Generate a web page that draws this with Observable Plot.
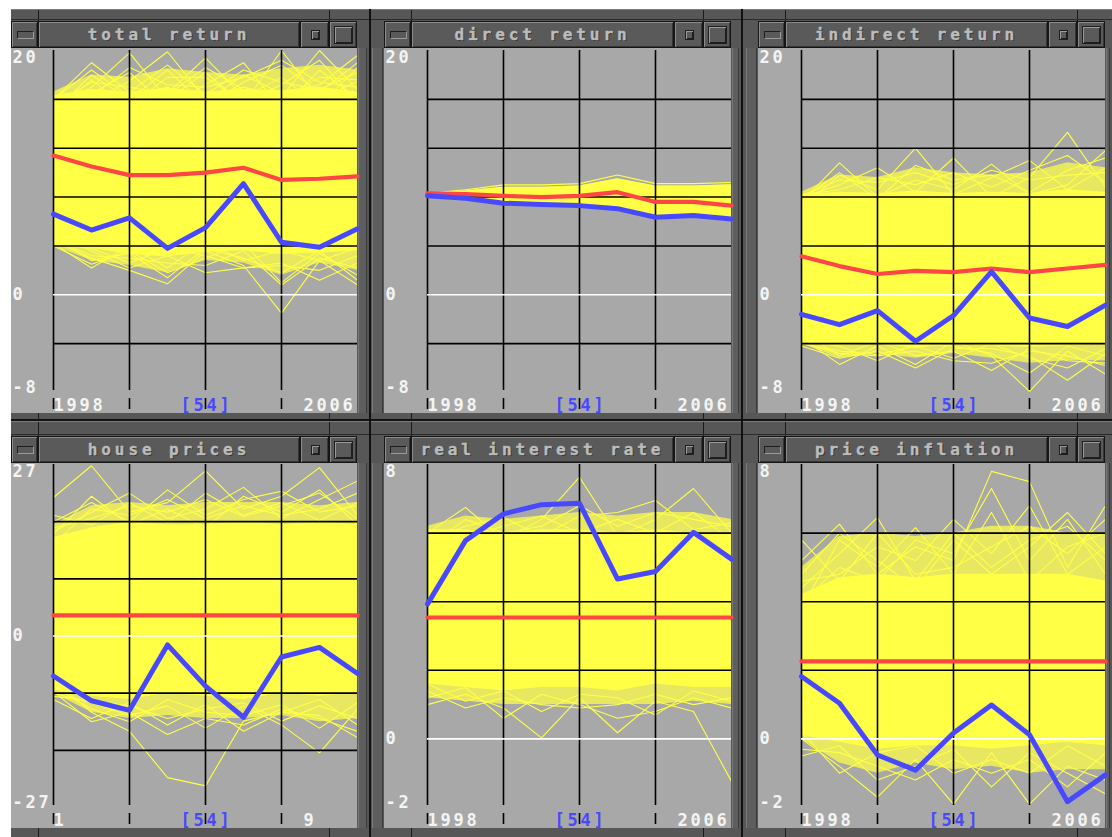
<!DOCTYPE html>
<html><head><meta charset="utf-8">
<script src="https://cdn.jsdelivr.net/npm/d3@7"></script>
<script src="https://cdn.jsdelivr.net/npm/@observablehq/plot@0.6"></script>
<style>
html,body{margin:0;padding:0;background:#fff;}
body{width:1112px;height:837px;overflow:hidden;position:relative;}
.abs{position:absolute;box-sizing:border-box;}
.bg{background:#111;}
.frame{background:#575757;}
.tbox{background:#5a5a5a;border:1px solid #151515;box-shadow:inset 1px 1px 0 #8c8c8c, inset -1px -1px 0 #363636;}
.ttl{color:#bcbcbc;font-family:"DejaVu Sans Mono",monospace;font-weight:bold;font-size:16px;letter-spacing:3.9px;text-align:center;line-height:25px;text-shadow:1px 1px 0 #333;-webkit-text-stroke:0.4px #bcbcbc;white-space:nowrap;overflow:hidden;}
.ico{background:#5a5a5a;box-shadow:inset 1px 1px 0 #9a9a9a, inset -1px -1px 0 #1e1e1e;border:1px solid #1e1e1e;}
.ico2{background:#5a5a5a;border-top:1px solid #1e1e1e;border-left:1px solid #1e1e1e;border-right:1px solid #9a9a9a;border-bottom:1px solid #9a9a9a;}
.strip{background:#5e5e5e;box-shadow:inset 1px 0 0 #7a7a7a, inset -1px 0 0 #3a3a3a;}
.content svg{display:block;}
</style></head><body>
<script>
// ---------- data ----------
const years = [1998, 1999, 2000, 2001, 2002, 2003, 2004, 2005, 2006];
const panelTitles = ["total return", "direct return", "indirect return", "house prices", "real interest rate", "price inflation"];
const selectedLabel = "[54]";
const yearLabels = ["1998", "2006"];
const indexLabels = ["1", "9"];

const returnYLabels = ["20", "0", "-8"];
const returnDomain = [-8, 20];
const returnGrid = [16, 12, 8, 4, -4];
const houseYLabels = ["27", "0", "-27"];
const houseDomain = [-27, 27];
const houseGrid = [18, 9, -9, -18];
const rateYLabels = ["8", "0", "-2"];
const rateDomain = [-2, 8];
const rateGrid = [6, 4, 2];

const totalBlue = [6.6, 5.3, 6.3, 3.8, 5.5, 9.1, 4.3, 3.9, 5.4];
const totalRed = [11.4, 10.5, 9.8, 9.8, 10.0, 10.4, 9.4, 9.5, 9.7];
const totalCoreHi = [16.3, 16.8, 16.6, 16.9, 16.6, 16.8, 16.7, 17.0, 16.6];
const totalCoreLo = [4.0, 3.8, 3.3, 3.1, 3.5, 3.6, 3.3, 3.4, 3.6];
const totalOuterHi = [16.6, 18.0, 17.8, 18.5, 18.2, 18.0, 18.5, 18.8, 18.4];
const totalOuterLo = [4.0, 2.8, 2.4, 1.8, 2.8, 2.6, 1.6, 2.6, 2.0];
const totalFringe = [
  [16.0, 18.4, 16.2, 17.0, 15.8, 18.0, 16.5, 17.2, 19.6],
  [15.5, 17.0, 19.8, 16.0, 18.2, 15.6, 20.0, 16.0, 17.5],
  [16.2, 15.8, 17.5, 19.9, 16.0, 17.0, 16.2, 20.0, 16.8],
  [14.8, 17.6, 15.2, 16.5, 19.4, 16.2, 17.8, 15.5, 18.6],
  [16.3, 16.5, 18.2, 15.4, 17.2, 19.0, 15.2, 18.4, 16.0],
  [15.0, 18.0, 16.0, 18.4, 15.5, 17.4, 18.8, 16.6, 19.0],
  [16.1, 16.8, 15.5, 17.8, 17.8, 15.8, 17.2, 19.2, 15.8],
  [15.6, 17.4, 17.0, 16.4, 18.6, 16.8, 16.0, 17.8, 17.6],
  [16.0, 19.0, 16.6, 18.8, 16.4, 18.4, 17.4, 16.8, 18.2],
  [15.2, 16.2, 18.6, 17.2, 17.0, 17.8, 19.2, 17.4, 17.0],
  [4.4, 3.0, 2.0, 0.9, 3.6, 2.4, -1.5, 2.8, 0.8],
  [4.0, 2.5, 3.6, 1.8, 3.0, 4.2, 1.0, 3.4, 1.6],
  [5.0, 3.6, 2.2, 3.2, 1.8, 2.2, 2.6, 1.2, 2.6],
  [4.2, 2.2, 4.0, 2.2, 4.4, 2.8, 3.6, 2.8, 3.8],
  [4.6, 3.2, 3.0, 2.6, 2.4, 3.6, 0.8, 3.0, 2.2],
  [4.1, 3.8, 2.6, 3.8, 3.2, 2.2, 2.4, 2.0, 3.2],
  [4.8, 2.8, 3.4, 1.4, 3.8, 3.0, 1.8, 3.6, 1.2]
];

const directBlue = [8.1, 7.9, 7.5, 7.4, 7.3, 7.05, 6.35, 6.5, 6.2];
const directRed = [8.3, 8.25, 8.1, 8.0, 8.1, 8.4, 7.6, 7.6, 7.3];
const directCoreHi = [8.3, 8.5, 8.8, 8.8, 8.9, 9.5, 8.9, 8.9, 9.0];
const directCoreLo = [8.0, 7.85, 7.55, 7.45, 7.35, 7.15, 6.45, 6.55, 6.3];
const directOuterHi = directCoreHi;
const directOuterLo = directCoreLo;
const directFringe = [
  [8.3, 8.6, 9.0, 9.0, 9.1, 9.8, 9.1, 9.1, 9.2]
];

const indirectBlue = [-1.6, -2.45, -1.3, -3.8, -1.7, 1.9, -1.9, -2.6, -0.85];
const indirectRed = [3.15, 2.35, 1.7, 1.95, 1.85, 2.15, 1.85, 2.15, 2.45];
const indirectCoreHi = [8.2, 8.4, 8.3, 8.5, 8.3, 8.4, 8.3, 8.6, 8.4];
const indirectCoreLo = [-3.8, -4.2, -4.0, -4.4, -4.0, -4.2, -4.3, -4.2, -4.0];
const indirectOuterHi = [8.4, 9.8, 9.6, 10.4, 10.0, 9.8, 10.0, 10.8, 10.4];
const indirectOuterLo = [-4.0, -5.2, -4.8, -5.2, -4.8, -5.2, -5.6, -5.4, -5.4];
const indirectFringe = [
  [7.6, 10.8, 8.0, 9.4, 8.6, 10.7, 8.2, 9.0, 11.8],
  [8.0, 9.0, 10.4, 8.4, 11.2, 8.0, 9.6, 13.3, 8.8],
  [7.2, 9.8, 8.6, 12.0, 8.2, 9.6, 11.0, 8.6, 10.4],
  [8.2, 8.6, 9.6, 9.0, 10.0, 8.8, 10.2, 11.4, 9.2],
  [7.8, 10.0, 7.8, 10.6, 9.4, 9.8, 8.4, 10.2, 11.2],
  [8.1, 9.4, 9.2, 10.0, 9.0, 10.2, 9.4, 9.8, 10.0],
  [-3.5, -5.7, -4.2, -5.7, -3.8, -5.0, -7.9, -4.6, -6.5],
  [-4.0, -4.6, -4.9, -4.2, -5.2, -4.0, -5.2, -6.0, -4.4],
  [-3.0, -5.0, -3.8, -5.0, -4.6, -6.2, -4.4, -5.4, -5.6],
  [-3.8, -4.2, -5.4, -4.0, -4.2, -4.8, -6.4, -4.2, -5.0],
  [-4.2, -5.2, -4.6, -6.0, -4.4, -4.4, -5.0, -7.0, -4.8],
  [-3.9, -4.8, -5.0, -4.6, -5.4, -5.6, -4.6, -5.0, -5.8]
];

const houseBlue = [-6.3, -10.2, -11.7, -1.4, -7.9, -12.8, -3.3, -1.8, -5.9];
const houseRed = [3.25, 3.25, 3.25, 3.25, 3.25, 3.25, 3.25, 3.25, 3.25];
const houseCoreHi = [15.5, 17.0, 18.0, 17.5, 17.5, 18.0, 17.5, 18.0, 17.5];
const houseCoreLo = [-8.5, -9.5, -10.0, -9.0, -9.5, -10.0, -9.0, -9.5, -9.0];
const houseOuterHi = [17.5, 20.5, 21.0, 20.5, 21.0, 21.0, 21.0, 20.5, 21.0];
const houseOuterLo = [-9.0, -12.0, -13.0, -12.5, -13.0, -13.0, -12.5, -13.5, -13.0];
const houseFringe = [
  [21.8, 26.8, 19.5, 21.0, 26.0, 20.0, 22.0, 26.5, 19.0],
  [16.5, 19.5, 22.5, 18.5, 20.0, 23.4, 18.5, 21.5, 24.4],
  [18.0, 21.0, 18.0, 23.0, 19.0, 21.5, 22.8, 19.5, 20.5],
  [17.0, 18.5, 20.5, 19.5, 21.5, 18.8, 20.5, 22.5, 18.5],
  [14.5, 20.0, 19.0, 21.5, 18.5, 20.5, 19.0, 20.0, 22.5],
  [19.0, 17.5, 21.0, 17.8, 22.5, 19.0, 21.0, 18.2, 21.0],
  [16.0, 22.0, 17.5, 20.0, 17.0, 22.0, 19.5, 23.0, 17.5],
  [-7.0, -12.0, -15.0, -22.3, -23.6, -13.4, -12.0, -10.0, -14.0],
  [-9.0, -10.5, -12.5, -11.0, -14.5, -11.0, -14.0, -18.4, -11.5],
  [-10.0, -13.0, -10.5, -14.0, -10.8, -15.0, -12.0, -12.5, -16.0],
  [-8.0, -11.5, -13.5, -10.0, -12.0, -12.5, -10.8, -14.5, -10.5],
  [-9.5, -10.2, -11.0, -13.0, -11.5, -10.5, -13.4, -11.0, -13.0],
  [-8.8, -13.5, -12.0, -15.5, -13.0, -14.0, -11.5, -13.0, -15.0]
];

const rateBlue = [3.93, 5.78, 6.56, 6.83, 6.87, 4.66, 4.88, 6.02, 5.24];
const rateRed = [3.54, 3.54, 3.54, 3.54, 3.54, 3.54, 3.54, 3.54, 3.54];
const rateCoreHi = [6.1, 6.1, 6.0, 6.1, 6.1, 6.0, 6.1, 6.0, 6.0];
const rateCoreLo = [1.6, 1.5, 1.4, 1.5, 1.5, 1.4, 1.6, 1.5, 1.5];
const rateOuterHi = [6.2, 6.5, 6.4, 6.5, 6.6, 6.5, 6.6, 6.6, 6.4];
const rateOuterLo = [1.2, 1.1, 1.0, 1.0, 1.0, 1.0, 1.0, 1.1, 1.0];
const rateFringe = [
  [6.0, 6.75, 5.8, 6.4, 7.63, 5.9, 6.4, 7.3, 6.0],
  [5.8, 6.2, 6.46, 5.9, 6.5, 6.6, 6.95, 6.1, 6.3],
  [6.1, 5.9, 6.2, 6.5, 6.0, 6.4, 6.0, 6.6, 5.8],
  [5.6, 6.4, 6.0, 6.2, 6.8, 6.2, 6.6, 6.4, 6.2],
  [1.0, 1.3, 0.9, 0.03, 1.2, 0.18, 1.1, 0.8, -1.24],
  [1.4, 0.9, 1.2, 1.0, 0.9, 1.0, 1.3, 1.0, 1.2],
  [1.2, 1.5, 0.6, 1.3, 1.0, 0.6, 0.8, 1.2, 0.9],
  [1.6, 1.1, 1.4, 0.8, 1.3, 1.2, 0.7, 1.4, 1.1]
];

const inflBlue = [1.82, 1.04, -0.47, -0.91, 0.17, 0.99, 0.12, -1.83, -1.05];
const inflRed = [2.26, 2.26, 2.26, 2.26, 2.26, 2.26, 2.26, 2.26, 2.26];
const inflCoreHi = [4.2, 4.7, 4.8, 4.7, 4.8, 4.8, 4.8, 4.8, 4.6];
const inflCoreLo = [0.1, -0.1, -0.3, -0.2, -0.2, -0.3, -0.2, -0.1, -0.2];
const inflOuterHi = [5.0, 5.9, 6.0, 5.9, 6.0, 6.2, 6.2, 6.0, 6.0];
const inflOuterLo = [0.0, -0.7, -1.0, -0.7, -0.9, -0.8, -1.0, -0.9, -0.9];
const inflFringe = [
  [5.2, 6.26, 4.8, 5.6, 5.2, 7.8, 7.5, 5.0, 6.8],
  [4.4, 5.4, 6.45, 4.6, 6.0, 5.0, 5.8, 6.2, 5.2],
  [3.8, 5.8, 5.0, 6.16, 4.8, 6.6, 4.6, 5.6, 6.0],
  [4.6, 4.8, 5.6, 5.2, 6.4, 5.4, 6.8, 4.8, 5.6],
  [4.0, 5.0, 4.6, 5.8, 5.4, 7.3, 5.2, 6.4, 4.8],
  [5.8, 4.6, 6.0, 4.8, 5.0, 5.6, 6.2, 5.4, 6.4],
  [4.8, 6.0, 5.2, 4.4, 5.8, 4.8, 5.6, 6.6, 5.4],
  [0.0, -0.8, -1.7, -0.6, -1.9, -0.4, -1.9, -0.8, -1.2],
  [-0.3, -0.4, -0.8, -1.2, -0.6, -1.0, -0.6, -1.4, -0.4],
  [0.2, -1.0, -0.4, -0.2, -1.0, -0.6, -1.0, -0.2, -0.8],
  [-0.5, -0.2, -1.2, -0.8, -0.3, -1.4, -0.4, -1.0, -1.6]
];

// ---------- layout / style ----------
const YEL = "#ffff46", RED = "#ff4646", BLUE = "#4848ff", PANEL_BG = "#a8a8a8";
const cols = [
  {L: 11, CL: 11, PL: 53, PR: 357, R: 369},
  {L: 371, CL: 384, PL: 427, PR: 731, R: 741},
  {L: 743, CL: 758, PL: 801, PR: 1105, R: 1112}
];
const rows = [
  {T: 9, TT: 20, TB: 47, PT: 49, PB: 391, CB: 412, B: 419},
  {T: 421, TT: 435, TB: 462, PT: 463, PB: 806, CB: 827, B: 837}
];

const panels = [
  {title: panelTitles[0], c: 0, r: 0, domain: returnDomain, grid: returnGrid, ylab: returnYLabels, xlab: yearLabels, blue: totalBlue, red: totalRed, hi: totalCoreHi, lo: totalCoreLo, ohi: totalOuterHi, olo: totalOuterLo, fringe: totalFringe},
  {title: panelTitles[1], c: 1, r: 0, domain: returnDomain, grid: returnGrid, ylab: returnYLabels, xlab: yearLabels, blue: directBlue, red: directRed, hi: directCoreHi, lo: directCoreLo, ohi: directOuterHi, olo: directOuterLo, fringe: directFringe},
  {title: panelTitles[2], c: 2, r: 0, domain: returnDomain, grid: returnGrid, ylab: returnYLabels, xlab: yearLabels, blue: indirectBlue, red: indirectRed, hi: indirectCoreHi, lo: indirectCoreLo, ohi: indirectOuterHi, olo: indirectOuterLo, fringe: indirectFringe},
  {title: panelTitles[3], c: 0, r: 1, domain: houseDomain, grid: houseGrid, ylab: houseYLabels, xlab: indexLabels, blue: houseBlue, red: houseRed, hi: houseCoreHi, lo: houseCoreLo, ohi: houseOuterHi, olo: houseOuterLo, fringe: houseFringe},
  {title: panelTitles[4], c: 1, r: 1, domain: rateDomain, grid: rateGrid, ylab: rateYLabels, xlab: yearLabels, blue: rateBlue, red: rateRed, hi: rateCoreHi, lo: rateCoreLo, ohi: rateOuterHi, olo: rateOuterLo, fringe: rateFringe},
  {title: panelTitles[5], c: 2, r: 1, domain: rateDomain, grid: rateGrid, ylab: rateYLabels, xlab: yearLabels, blue: inflBlue, red: inflRed, hi: inflCoreHi, lo: inflCoreLo, ohi: inflOuterHi, olo: inflOuterLo, fringe: inflFringe}
];

function div(cls, x, y, w, h, parent) {
  const d = document.createElement("div");
  d.className = "abs " + cls;
  d.style.left = x + "px"; d.style.top = y + "px";
  d.style.width = w + "px"; d.style.height = h + "px";
  (parent || document.body).appendChild(d);
  return d;
}

div("bg", 11, 9, 1101, 828);

function makePlot(p, c, r) {
  const w = c.PR - c.CL, h = r.CB - r.TB;
  const ml = c.PL - c.CL, mt = r.PT - r.TB, mb = r.CB - r.PB;
  const [ymin, ymax] = p.domain;
  const upp = (ymax - ymin) / (r.PB - r.PT);
  const core = years.map((x, i) => ({x, lo: p.lo[i], hi: p.hi[i], olo: p.olo[i], ohi: p.ohi[i]}));
  const fr = p.fringe.flatMap((arr, k) => arr.map((v, i) => ({x: years[i], y: v, k})));
  const red = years.map((x, i) => ({x, y: p.red[i]}));
  const blue = years.map((x, i) => ({x, y: p.blue[i]}));
  const vgrid = [1998, 2000, 2002, 2004];
  const txt = {fill: "#f4f4f4", fontFamily: "DejaVu Sans Mono", fontWeight: "bold", fontSize: 17};
  return Plot.plot({
    width: w, height: h,
    marginLeft: ml, marginRight: 0, marginTop: mt, marginBottom: mb,
    x: {domain: [1998, 2006], axis: null},
    y: {domain: [ymin, ymax], axis: null},
    style: {background: PANEL_BG, letterSpacing: "2.8px", overflow: "visible"},
    marks: [
      Plot.areaY(core, {x: "x", y1: "olo", y2: "ohi", fill: YEL, fillOpacity: 0.72, curve: "linear"}),
      Plot.areaY(core, {x: "x", y1: "lo", y2: "hi", fill: YEL, curve: "linear"}),
      Plot.line(fr, {x: "x", y: "y", z: "k", stroke: YEL, strokeWidth: 1.1, clip: true}),
      Plot.ruleX(vgrid, {x: d => d, y1: () => ymax, y2: () => ymin + 2 * upp, stroke: "#000", strokeWidth: 1.6}),
      Plot.ruleX(vgrid, {x: d => d, y1: () => ymin - 6 * upp, y2: () => ymin - 17 * upp, stroke: "#000", strokeWidth: 1.6}),
      Plot.ruleY(p.grid, {y: d => d, stroke: "#000", strokeWidth: 1.6}),
      Plot.ruleY([0], {y: d => d, stroke: "#ffffff", strokeWidth: 1.6}),
      Plot.line(red, {x: "x", y: "y", stroke: RED, strokeWidth: 4.2}),
      Plot.line(blue, {x: "x", y: "y", stroke: BLUE, strokeWidth: 5}),
      Plot.text([{v: ymax, t: p.ylab[0]}], {y: "v", text: "t", frameAnchor: "left", dx: -ml + 1, textAnchor: "start", lineAnchor: "top", ...txt}),
      Plot.text([{v: 0, t: p.ylab[1]}], {y: "v", text: "t", frameAnchor: "left", dx: -ml + 1, textAnchor: "start", lineAnchor: "middle", ...txt}),
      Plot.text([{v: ymin, t: p.ylab[2]}], {y: "v", text: "t", frameAnchor: "left", dx: -ml + 1, textAnchor: "start", lineAnchor: "bottom", ...txt}),
      Plot.text([{x: 1998, v: ymin, t: p.xlab[0]}], {x: "x", y: "v", text: "t", dy: 18, textAnchor: "start", lineAnchor: "bottom", ...txt}),
      Plot.text([{x: 2002, v: ymin, t: selectedLabel}], {x: "x", y: "v", text: "t", dy: 18, dx: 1, textAnchor: "middle", lineAnchor: "bottom", ...txt, fill: BLUE}),
      Plot.text([{x: 2006, v: ymin, t: p.xlab[1]}], {x: "x", y: "v", text: "t", dy: 18, dx: -54, textAnchor: "start", lineAnchor: "bottom", ...txt})
    ]
  });
}

for (const p of panels) {
  const c = cols[p.c], r = rows[p.r];
  const win = div("frame", c.L, r.T, c.R - c.L, r.B - r.T);
  win.style.borderTop = "1px solid #7c7c7c";
  div("", c.CL + 27 - c.L, 0, 1, r.TT - r.T, win).style.background = "#1a1a1a";
  div("", c.PR - 28 - c.L, 0, 1, r.TT - r.T, win).style.background = "#1a1a1a";
  div("", 0, r.TT - r.T - 2, c.R - c.L, 1, win).style.background = "#2a2a2a";
  div("", c.CL + 27 - c.L, r.CB - r.T, 1, r.B - r.CB, win).style.background = "#1a1a1a";
  div("", c.PR - 28 - c.L, r.CB - r.T, 1, r.B - r.CB, win).style.background = "#1a1a1a";
  if (c.CL > c.L) div("strip", c.CL - c.L - 12, r.TB - r.T, 11, r.CB - r.TB, win);
  div("strip", c.PR - c.L + 1, r.TB - r.T, Math.max(4, c.R - c.PR - 3), r.CB - r.TB, win);
  const ty = r.TT - r.T, th = r.TB - r.TT;
  const b1 = div("tbox", c.CL - c.L, ty, 27, th, win);
  div("ico2", 5, 9, 17, 8, b1);
  const ta = div("tbox ttl", c.CL - c.L + 27, ty, (c.PR - 57) - (c.CL + 27), th, win);
  ta.textContent = p.title;
  const b2 = div("tbox", c.PR - 57 - c.L, ty, 29, th, win);
  div("ico", 10, 8, 9, 10, b2);
  const b3 = div("tbox", c.PR - 28 - c.L, ty, 28, th, win);
  div("ico", 4, 4, 19, 18, b3);
  const cont = div("content", c.CL - c.L, r.TB - r.T, c.PR - c.CL, r.CB - r.TB, win);
  cont.style.background = PANEL_BG;
  cont.appendChild(makePlot(p, c, r));
}
</script>
</body></html>
